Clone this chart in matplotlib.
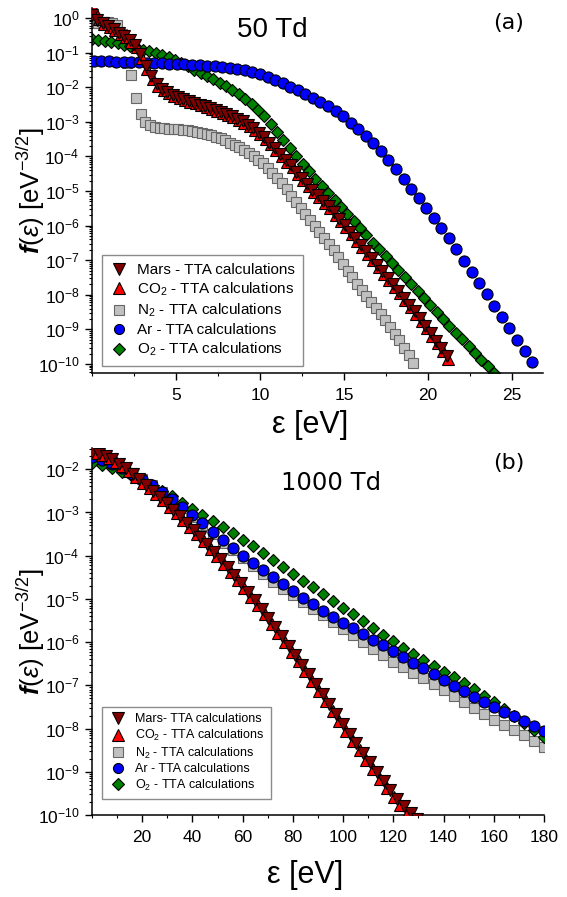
import numpy as np
import matplotlib

matplotlib.use("Agg")
import matplotlib.pyplot as plt
from matplotlib.ticker import LogLocator, NullFormatter, MultipleLocator

plt.rcParams["font.family"] = ["Liberation Sans", "DejaVu Sans"]
plt.rcParams["mathtext.fontset"] = "custom"
plt.rcParams["mathtext.rm"] = "Liberation Sans"
plt.rcParams["mathtext.it"] = "Liberation Sans:italic"
plt.rcParams["mathtext.bf"] = "Liberation Sans:bold:italic"

# ---- data: log10 f(eps), energy grid = start + step*k ----
# (a) 50 Td
top_mars_grid = (0.0, 0.32)
top_mars = [0.10, -0.05, -0.15, -0.24, -0.33, -0.42, -0.52, -0.63, -0.78, -1.05,
            -1.38, -1.68, -1.90, -2.04, -2.14, -2.22, -2.29, -2.35, -2.40, -2.45,
            -2.50, -2.55, -2.60, -2.66, -2.72, -2.78, -2.84, -2.91, -2.99, -3.08,
            -3.19, -3.31, -3.45, -3.60, -3.76, -3.92, -4.09, -4.26, -4.44, -4.61,
            -4.79, -4.96, -5.12, -5.28, -5.44, -5.62, -5.80, -5.97, -6.17, -6.36,
            -6.55, -6.74, -6.93, -7.13, -7.32, -7.51, -7.70, -7.89, -8.08, -8.28,
            -8.48, -8.68, -8.90, -9.11, -9.33, -9.55, -9.78]
top_co2_grid = (0.1, 0.32)
top_co2 = [0.25, -0.02, -0.18, -0.27, -0.36, -0.46, -0.56, -0.68, -0.85, -1.15,
           -1.48, -1.76, -1.95, -2.08, -2.17, -2.25, -2.32, -2.37, -2.42, -2.47,
           -2.52, -2.57, -2.63, -2.69, -2.75, -2.81, -2.87, -2.94, -3.02, -3.12,
           -3.23, -3.36, -3.50, -3.65, -3.81, -3.98, -4.15, -4.32, -4.50, -4.67,
           -4.85, -5.02, -5.18, -5.34, -5.50, -5.68, -5.86, -6.04, -6.24, -6.43,
           -6.62, -6.81, -7.00, -7.20, -7.39, -7.58, -7.77, -7.96, -8.15, -8.35,
           -8.55, -8.76, -8.97, -9.18, -9.40, -9.63, -9.86]
top_n2_grid = (0.1, 0.28)
top_n2 = [-0.14, -0.13, -0.12, -0.12, -0.14, -0.20, -0.45, -1.30, -1.65, -2.30,
          -2.78, -3.00, -3.10, -3.14, -3.17, -3.19, -3.20, -3.21, -3.22, -3.23,
          -3.25, -3.26, -3.28, -3.31, -3.35, -3.39, -3.43, -3.47, -3.53, -3.60,
          -3.67, -3.74, -3.82, -3.91, -4.00, -4.09, -4.20, -4.33, -4.47, -4.62,
          -4.78, -4.95, -5.13, -5.31, -5.49, -5.67, -5.85, -6.02, -6.19, -6.36,
          -6.53, -6.71, -6.90, -7.10, -7.30, -7.49, -7.68, -7.86, -8.03, -8.20,
          -8.37, -8.54, -8.74, -8.93, -9.12, -9.32, -9.53, -9.75, -9.97]
top_ar_grid = (0.1, 0.45)
top_ar = [-1.24, -1.24, -1.25, -1.26, -1.27, -1.27, -1.28, -1.29, -1.30, -1.31,
          -1.32, -1.33, -1.34, -1.35, -1.36, -1.38, -1.40, -1.42, -1.44, -1.47,
          -1.51, -1.55, -1.61, -1.69, -1.78, -1.88, -1.98, -2.09, -2.19, -2.30,
          -2.43, -2.55, -2.70, -2.84, -3.02, -3.20, -3.40, -3.61, -3.83, -4.10,
          -4.36, -4.65, -4.93, -5.21, -5.49, -5.78, -6.07, -6.37, -6.69, -7.01,
          -7.33, -7.66, -7.99, -8.32, -8.64, -8.97, -9.30, -9.62, -9.95]
top_o2_grid = (0.0, 0.38)
top_o2 = [-0.62, -0.64, -0.66, -0.69, -0.73, -0.77, -0.81, -0.86, -0.91, -0.96,
          -1.02, -1.08, -1.14, -1.21, -1.29, -1.39, -1.49, -1.59, -1.68, -1.77,
          -1.87, -1.97, -2.08, -2.20, -2.33, -2.48, -2.65, -2.84, -3.06, -3.29,
          -3.53, -3.77, -3.99, -4.21, -4.42, -4.64, -4.85, -5.05, -5.26, -5.46,
          -5.67, -5.88, -6.08, -6.28, -6.49, -6.69, -6.89, -7.09, -7.29, -7.49,
          -7.70, -7.90, -8.10, -8.29, -8.49, -8.69, -8.89, -9.09, -9.28, -9.48,
          -9.68, -9.87, -10.07, -10.27]

# (b) 1000 Td
bot_mars_grid = (0.0, 2.7)
bot_mars = [-1.60, -1.64, -1.69, -1.77, -1.87, -1.98, -2.10, -2.23, -2.37, -2.50,
            -2.64, -2.79, -2.94, -3.09, -3.25, -3.41, -3.57, -3.74, -3.91, -4.08,
            -4.26, -4.45, -4.64, -4.83, -5.03, -5.23, -5.44, -5.65, -5.86, -6.08,
            -6.30, -6.52, -6.74, -6.97, -7.20, -7.43, -7.66, -7.89, -8.12, -8.34,
            -8.56, -8.78, -9.00, -9.21, -9.42, -9.62, -9.80, -9.96, -10.10]
bot_co2_grid = (1.3, 2.7)
bot_co2 = [-1.62, -1.67, -1.73, -1.83, -1.93, -2.05, -2.17, -2.31, -2.44, -2.58,
           -2.72, -2.87, -3.02, -3.18, -3.34, -3.50, -3.67, -3.84, -4.01, -4.19,
           -4.37, -4.56, -4.75, -4.95, -5.15, -5.36, -5.57, -5.78, -6.00, -6.22,
           -6.44, -6.67, -6.90, -7.13, -7.36, -7.59, -7.82, -8.05, -8.28, -8.50,
           -8.72, -8.94, -9.16, -9.37, -9.58, -9.78, -9.97, -10.15]
bot_n2_grid = (0.0, 4.0)
bot_n2 = [-1.68, -1.75, -1.84, -1.95, -2.08, -2.22, -2.37, -2.53, -2.71, -2.90,
          -3.10, -3.30, -3.50, -3.70, -3.88, -4.06, -4.24, -4.42, -4.60, -4.76,
          -4.92, -5.08, -5.23, -5.38, -5.54, -5.69, -5.84, -6.00, -6.15, -6.30,
          -6.45, -6.58, -6.71, -6.84, -6.97, -7.10, -7.24, -7.38, -7.52, -7.66,
          -7.80, -7.92, -8.04, -8.16, -8.29, -8.42]
bot_ar_grid = (0.0, 4.0)
bot_ar = [-1.72, -1.78, -1.87, -1.98, -2.10, -2.23, -2.37, -2.52, -2.69, -2.87,
          -3.06, -3.25, -3.45, -3.64, -3.82, -4.00, -4.17, -4.34, -4.50, -4.66,
          -4.82, -4.97, -5.12, -5.27, -5.41, -5.55, -5.68, -5.81, -5.94, -6.07,
          -6.20, -6.34, -6.48, -6.61, -6.74, -6.88, -7.01, -7.14, -7.26, -7.38,
          -7.50, -7.61, -7.72, -7.83, -7.94, -8.05]
bot_o2_grid = (0.0, 4.0)
bot_o2 = [-1.86, -1.90, -1.96, -2.06, -2.16, -2.26, -2.38, -2.50, -2.63, -2.77,
          -2.91, -3.05, -3.20, -3.34, -3.48, -3.63, -3.78, -3.94, -4.10, -4.26,
          -4.42, -4.58, -4.73, -4.89, -5.04, -5.20, -5.36, -5.52, -5.68, -5.83,
          -5.98, -6.13, -6.28, -6.42, -6.55, -6.68, -6.81, -6.95, -7.09, -7.24,
          -7.39, -7.55, -7.72, -7.88, -8.04, -8.20]

# ---- styles ----
STYLE = {
    "mars": dict(marker="v", mfc="#800000", mec="black", ms=9.2, zorder=5),
    "co2": dict(marker="^", mfc="#ff0000", mec="black", ms=9.2, zorder=4),
    "n2": dict(marker="s", mfc="#c0c0c0", mec="#666666", ms=7.6, zorder=1),
    "ar": dict(marker="o", mfc="#0000ff", mec="black", ms=8.0, zorder=3),
    "o2": dict(marker="D", mfc="#008000", mec="black", ms=6.4, zorder=2),
}
ORDER = ["mars", "co2", "n2", "ar", "o2"]


def energies(grid, vals):
    start, step = grid
    return start + step * np.arange(len(vals))


def draw(ax, series, labels):
    handles = []
    for key in ORDER:
        grid, vals = series[key]
        st = STYLE[key]
        (h,) = ax.plot(energies(grid, vals), 10.0 ** np.array(vals), ls="none",
                       marker=st["marker"], mfc=st["mfc"], mec=st["mec"],
                       ms=st["ms"], mew=0.8, zorder=st["zorder"], label=labels[key])
        handles.append(h)
    return handles


def style_axes(ax, decades, ticksize):
    for s in ("top", "right"):
        ax.spines[s].set_visible(False)
    for s in ("left", "bottom"):
        ax.spines[s].set_linewidth(1.1)
    ax.set_yscale("log")
    ax.set_yticks([10.0 ** k for k in decades])
    ax.yaxis.set_minor_locator(LogLocator(base=10, subs=np.arange(2, 10), numticks=50))
    ax.yaxis.set_minor_formatter(NullFormatter())
    ax.tick_params(which="major", direction="out", length=5, width=1.0,
                   labelsize=ticksize, pad=4)
    ax.tick_params(which="minor", direction="out", length=2.5, width=0.8)
    ax.tick_params(axis="x", which="major", pad=6)


W, H = 567, 897
fig = plt.figure(figsize=(W / 100, H / 100), dpi=100)

# ---------------- (a) 50 Td ----------------
ax1 = fig.add_axes([92 / W, 1 - 373 / H, 451 / W, 365 / H])
h1 = draw(ax1, {
    "mars": (top_mars_grid, top_mars), "co2": (top_co2_grid, top_co2),
    "n2": (top_n2_grid, top_n2), "ar": (top_ar_grid, top_ar), "o2": (top_o2_grid, top_o2),
}, {
    "mars": "Mars - TTA calculations", "co2": r"CO$_2$ - TTA calculations",
    "n2": r"N$_2$ - TTA calculations", "ar": "Ar - TTA calculations",
    "o2": r"O$_2$ - TTA calculations",
})
style_axes(ax1, range(-10, 1), 12.5)
ax1.set_xlim(0, 26.85)
ax1.set_ylim(5.5e-11, 1.95)
ax1.set_xticks([5, 10, 15, 20, 25])
ax1.xaxis.set_minor_locator(MultipleLocator(2.5))
ax1.legend(handles=h1, loc="lower left", bbox_to_anchor=(0.022, 0.019),
           borderaxespad=0, fontsize=11, numpoints=1, handlelength=1.2,
           handletextpad=0.6, borderpad=0.5, labelspacing=0.25, markerscale=0.9,
           fancybox=False, edgecolor="#8c8c8c", framealpha=1)

# ---------------- (b) 1000 Td ----------------
ax2 = fig.add_axes([92 / W, 1 - 815 / H, 452 / W, 367 / H])
h2 = draw(ax2, {
    "mars": (bot_mars_grid, bot_mars), "co2": (bot_co2_grid, bot_co2),
    "n2": (bot_n2_grid, bot_n2), "ar": (bot_ar_grid, bot_ar), "o2": (bot_o2_grid, bot_o2),
}, {
    "mars": "Mars- TTA calculations", "co2": r"CO$_2$ - TTA calculations",
    "n2": r"N$_2$ - TTA calculations", "ar": "Ar - TTA calculations",
    "o2": r"O$_2$ - TTA calculations",
})
style_axes(ax2, range(-10, -1), 12.5)
ax2.set_xlim(0, 180)
ax2.set_ylim(1e-10, 3.1e-2)
ax2.set_xticks(range(20, 181, 20))
ax2.xaxis.set_minor_locator(MultipleLocator(10))
ax2.legend(handles=h2, loc="lower left", bbox_to_anchor=(0.022, 0.0436),
           borderaxespad=0, fontsize=9, numpoints=1, handlelength=1.6,
           handletextpad=0.56, borderpad=0.5, labelspacing=0.2, markerscale=0.9,
           fancybox=False, edgecolor="#8c8c8c", framealpha=1)

# ---------------- labels ----------------
ylab = r"$\mathbf{f}$($\varepsilon$) [eV$^{-3/2}$]"
for ax, xl_y, xl_x in ((ax1, -0.101, 0.483), (ax2, -0.1226, 0.471)):
    ax.set_xlabel("ε [eV]", fontsize=22)
    ax.xaxis.set_label_coords(xl_x, xl_y)
    ax.set_ylabel(ylab, fontsize=18.5)
    ax.yaxis.set_label_coords(-0.10, 0.5)

fig.text(272 / W, 1 - 30 / H, "50 Td", fontsize=20, ha="center", va="center")
fig.text(331 / W, 1 - 483 / H, "1000 Td", fontsize=17.5, ha="center", va="center",
         family="DejaVu Sans")
fig.text(509 / W, 1 - 23 / H, "(a)", fontsize=16, ha="center", va="center",
         family="DejaVu Sans")
fig.text(509 / W, 1 - 463 / H, "(b)", fontsize=16, ha="center", va="center",
         family="DejaVu Sans")

fig.savefig("out.png", dpi=100)
